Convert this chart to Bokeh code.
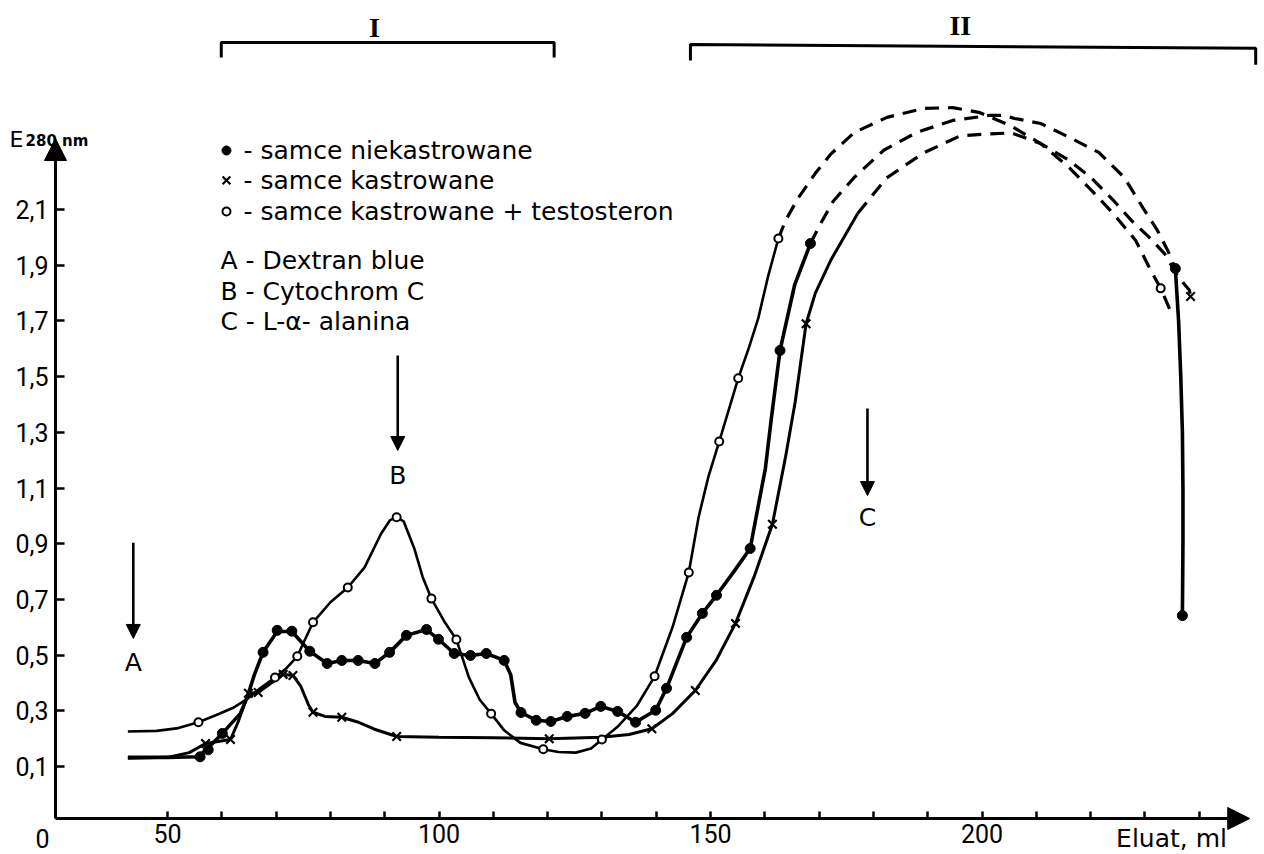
from bokeh.plotting import figure
from bokeh.models import Range1d, Arrow, NormalHead, FixedTicker
from bokeh.embed import file_html
from bokeh.resources import INLINE
from bokeh.core.properties import value

# ---------------- data ----------------
# samce niekastrowane (filled circles) - solid trace
f_x = [42.7, 50, 55.5, 57, 60.1, 63.4, 64.7, 66, 67.6, 70.2, 72.9, 76.2, 79.4, 82.1, 85.1, 88.2,
       90.9, 94, 97.7, 99.9, 102.8, 105.8, 108.7, 112, 113.2, 114, 115.1, 117.9, 120.6, 123.6,
       126.9, 129.8, 132.9, 136.2, 139.9, 141.9, 145.6, 148.5, 151.1, 154.3, 157.3, 160.1, 161.2,
       162.8, 165.5, 168.4]
f_y = [0.133, 0.133, 0.135, 0.158, 0.219, 0.29, 0.35, 0.43, 0.51, 0.585, 0.585, 0.514, 0.47, 0.481,
       0.481, 0.47, 0.51, 0.571, 0.592, 0.557, 0.506, 0.499, 0.506, 0.481, 0.43, 0.33, 0.294, 0.266,
       0.262, 0.28, 0.291, 0.316, 0.298, 0.259, 0.302, 0.381, 0.564, 0.65, 0.715, 0.80, 0.883, 1.17,
       1.35, 1.594, 1.83, 1.978]
f_dash_x = [168.4, 170.3, 172.6, 176.5, 181.9, 188.0, 194.6, 201.4, 204.0, 206.0, 210.8, 216.1,
            221.5, 226.2, 229.6, 232.3, 234.2, 235.6]
f_dash_y = [1.978, 2.05, 2.13, 2.216, 2.313, 2.377, 2.42, 2.438, 2.438, 2.427, 2.409, 2.359,
            2.305, 2.215, 2.107, 2.025, 1.953, 1.888]
f_tail_x = [235.6, 236.2, 236.6, 236.9, 237.0, 237.0, 236.9]
f_tail_y = [1.888, 1.70, 1.50, 1.30, 1.10, 0.90, 0.642]
f_mark_x = [56, 57.5, 60.1, 67.6, 70.2, 72.9, 76.2, 79.4, 82.1, 85.1, 88.2, 90.9, 94, 97.7, 99.9,
            102.8, 105.8, 108.7, 112, 115.1, 117.9, 120.6, 123.6, 126.9, 129.8, 132.9, 136.2,
            139.9, 141.9, 145.6, 148.5, 151.1, 157.3, 162.8, 168.4, 235.6, 236.9]
f_mark_y = [0.135, 0.16, 0.219, 0.51, 0.589, 0.586, 0.514, 0.47, 0.481, 0.481, 0.47, 0.51, 0.571,
            0.592, 0.557, 0.506, 0.499, 0.506, 0.481, 0.294, 0.266, 0.262, 0.28, 0.291, 0.316,
            0.298, 0.259, 0.302, 0.381, 0.564, 0.65, 0.715, 0.883, 1.594, 1.978, 1.888, 0.642]

# samce kastrowane (crosses)
k_x = [42.7, 50, 54, 57, 61.6, 63, 64.9, 66.7, 69.8, 71.3, 73.1, 74.5, 76, 76.8, 79, 82.1, 85,
       88, 92.2, 100, 110, 120.3, 130, 135, 139.2, 143, 147.2, 151, 154.6, 158, 161.4, 163.8,
       165.6, 167.6, 169.3, 172.2, 177.1]
k_y = [0.13, 0.133, 0.15, 0.183, 0.197, 0.26, 0.363, 0.366, 0.41, 0.431, 0.427, 0.39, 0.32, 0.295,
       0.28, 0.277, 0.26, 0.235, 0.208, 0.205, 0.203, 0.2, 0.205, 0.215, 0.236, 0.29, 0.373, 0.48,
       0.614, 0.78, 0.97, 1.21, 1.41, 1.69, 1.80, 1.92, 2.086]
k_dash_x = [177.1, 182.4, 189.2, 195.9, 200.6, 205.4, 210.8, 216.1, 220.2, 224.2, 227.5, 230.8,
            233.6, 236.2, 238.2, 238.4]
k_dash_y = [2.086, 2.213, 2.303, 2.364, 2.371, 2.375, 2.337, 2.276, 2.212, 2.133, 2.061, 2.0,
            1.942, 1.856, 1.81, 1.788]
k_mark_x = [57, 61.6, 64.9, 66.7, 71.3, 73.1, 76.8, 82.1, 92.2, 120.3, 139.2, 147.2, 154.6,
            161.4, 167.6, 238.4]
k_mark_y = [0.183, 0.197, 0.363, 0.366, 0.431, 0.427, 0.295, 0.277, 0.208, 0.2, 0.236, 0.373,
            0.614, 0.97, 1.69, 1.788]

# samce kastrowane + testosteron (open circles)
o_x = [42.7, 48, 52, 55.7, 59, 62, 64.5, 67, 69.8, 72, 73.9, 76.8, 80, 83.2, 86.3, 89.3, 91,
       92.2, 93.5, 95.5, 97, 98.6, 101, 103.2, 105.5, 107.5, 109.6, 112, 115, 119.2, 122, 125.2,
       128, 130, 133, 136.5, 139.7, 143, 146, 147.8, 149.6, 151.6, 155.1, 157, 158.8, 160.6, 162.5]
o_y = [0.226, 0.228, 0.238, 0.259, 0.285, 0.31, 0.34, 0.38, 0.42, 0.455, 0.496, 0.618, 0.69,
       0.743, 0.815, 0.935, 0.985, 0.995, 0.98, 0.88, 0.78, 0.703, 0.62, 0.556, 0.42, 0.34, 0.29,
       0.23, 0.185, 0.162, 0.152, 0.15, 0.165, 0.197, 0.245, 0.32, 0.424, 0.6, 0.797, 0.995,
       1.14, 1.267, 1.494, 1.6, 1.71, 1.86, 1.996]
o_dash_x = [162.5, 163.8, 166.1, 169.3, 172.2, 176.5, 182.5, 189.2, 194.6, 199.4, 205.2, 210.8,
            216.1, 220.2, 224.2, 228.3, 230.8, 232.9, 234.9]
o_dash_y = [1.996, 2.06, 2.14, 2.23, 2.30, 2.377, 2.431, 2.463, 2.466, 2.449, 2.402, 2.337,
            2.25, 2.168, 2.085, 1.989, 1.892, 1.817, 1.727]
o_mark_x = [55.7, 69.8, 73.9, 76.8, 83.2, 92.2, 98.6, 103.2, 109.6, 119.2, 130, 139.7, 146,
            151.6, 155.1, 162.5, 232.9]
o_mark_y = [0.259, 0.42, 0.496, 0.618, 0.743, 0.995, 0.703, 0.556, 0.29, 0.162, 0.197, 0.424,
            0.797, 1.267, 1.494, 1.996, 1.817]

y_ticks = [0.1, 0.3, 0.5, 0.7, 0.9, 1.1, 1.3, 1.5, 1.7, 1.9, 2.1]
y_labels = ["0,1", "0,3", "0,5", "0,7", "0,9", "1,1", "1,3", "1,5", "1,7", "1,9", "2,1"]
x_ticks = [50, 60, 70, 80, 90, 100, 110, 120, 130, 140, 150, 160, 170, 180, 190, 200, 210,
           220, 230, 240]
x_labelled = {50: "50", 100: "100", 150: "150", 200: "200"}

legend_rows = ["- samce niekastrowane", "- samce  kastrowane", "- samce  kastrowane + testosteron"]
marker_rows = ["A - Dextran  blue", "B - Cytochrom  C", "C - L-\u03b1- alanina"]
fractions = ["I", "II"]
frac_x = [[59.9, 59.9, 121.2, 121.2], [146.3, 146.3, 250.4, 250.4]]
frac_y = [[2.646, 2.70, 2.70, 2.646], [2.635, 2.693, 2.679, 2.62]]
frac_label_x = [88.1, 196.0]
arrow_names = ["A", "B", "C"]
arrow_x = [43.7, 92.4, 178.9]
arrow_top = [0.904, 1.576, 1.386]
arrow_bottom = [0.560, 1.235, 1.073]
arrow_label_y = [0.474, 1.145, 0.995]

# ---------------- figure ----------------
XL, XR = 19.245, 252.02          # whole canvas in data units
YB, YT = -0.2158, 2.8506
X_AX, Y_AX = 29.37, -0.0866      # where the axes cross
FONT = "DejaVu Sans"
NUMFONT = "Roboto"

p = figure(width=1264, height=854, output_backend="svg", toolbar_location=None,
           x_range=Range1d(XL, XR), y_range=Range1d(YB, YT),
           min_border_left=0, min_border_right=0, min_border_top=0, min_border_bottom=0)
p.grid.visible = False
p.outline_line_color = None
p.background_fill_color = "white"
p.border_fill_color = "white"

for ax in (p.xaxis[0], p.yaxis[0]):
    ax.axis_line_width = 3
    ax.axis_line_color = "black"
    ax.major_tick_line_width = 2.5
    ax.major_tick_line_color = "black"
    ax.major_tick_out = 0
    ax.minor_tick_line_color = None
    ax.major_label_text_font = NUMFONT
    ax.major_label_text_color = "black"
    ax.major_label_text_font_size = "25px"

p.yaxis.fixed_location = X_AX
p.yaxis.ticker = FixedTicker(ticks=y_ticks)
p.yaxis.major_label_overrides = {t: l for t, l in zip(y_ticks, y_labels)}
p.yaxis.major_label_standoff = 7
p.yaxis.major_tick_in = 9
p.yaxis.bounds = (Y_AX, 2.30)

p.xaxis.fixed_location = Y_AX
p.xaxis.ticker = FixedTicker(ticks=x_ticks)
p.xaxis.major_label_overrides = {t: x_labelled.get(t, "") for t in x_ticks}
p.xaxis.major_label_standoff = 5
p.xaxis.major_tick_in = 7
p.xaxis.bounds = (X_AX, 245.5)

# axis arrow heads
p.add_layout(Arrow(end=NormalHead(size=22, fill_color="black", line_color="black", line_width=1),
                   x_start=X_AX, y_start=2.2, x_end=X_AX, y_end=2.355, line_width=3))
p.add_layout(Arrow(end=NormalHead(size=22, fill_color="black", line_color="black", line_width=1),
                   x_start=243.5, y_start=Y_AX, x_end=249.3, y_end=Y_AX, line_width=3))

# series lines
p.line(f_x, f_y, line_width=3.6, color="black")
p.line(f_tail_x, f_tail_y, line_width=3.6, color="black")
p.line(f_dash_x, f_dash_y, line_width=3.2, color="black", line_dash="14 9")
p.line(k_x, k_y, line_width=3.0, color="black")
p.line(k_dash_x, k_dash_y, line_width=3.2, color="black", line_dash="14 9")
p.line(o_x, o_y, line_width=2.6, color="black")
p.line(o_dash_x, o_dash_y, line_width=3.2, color="black", line_dash="14 9")

# markers
p.scatter(f_mark_x, f_mark_y, marker="circle", size=10, fill_color="black", line_color="black")
p.scatter(k_mark_x, k_mark_y, marker="x", size=12, line_color="black", line_width=2.2)
p.scatter(o_mark_x, o_mark_y, marker="circle", size=8, fill_color="white", line_color="black",
          line_width=2)

# legend (as drawn in the figure)
leg_mark_x = 60.86
leg_text_x = 64.0
leg_y = [2.312, 2.205, 2.093]
p.scatter([leg_mark_x], [leg_y[0]], marker="circle", size=9, fill_color="black", line_color="black")
p.scatter([leg_mark_x], [leg_y[1]], marker="x", size=11, line_color="black", line_width=2.2)
p.scatter([leg_mark_x], [leg_y[2]], marker="circle", size=8, fill_color="white",
          line_color="black", line_width=2)
p.text([leg_text_x] * 3, leg_y, text=legend_rows, text_font=value(FONT), text_font_size="25px",
       text_baseline="middle", text_align="left", text_color="black")
p.text([59.75] * 3, [1.917, 1.806, 1.698], text=marker_rows, text_font=value(FONT),
       text_font_size="25px", text_baseline="middle", text_align="left", text_color="black")

# marker arrows A, B, C
for ax_, yt, yb in zip(arrow_x, arrow_top, arrow_bottom):
    p.add_layout(Arrow(end=NormalHead(size=14, fill_color="black", line_color="black"),
                       x_start=ax_, y_start=yt, x_end=ax_, y_end=yb, line_width=2.6))
p.text(arrow_x, arrow_label_y, text=arrow_names, text_font=value(FONT), text_font_size="25px",
       text_baseline="middle", text_align="center", text_color="black")

# fraction brackets I / II
p.multi_line(frac_x, frac_y, line_width=3, color="black")
p.text(frac_label_x, [2.752, 2.762], text=fractions, text_font=value("Liberation Serif"),
       text_font_size="28px", text_font_style="bold", text_baseline="middle",
       text_align="center", text_color="black")

# axis titles and origin
p.text([20.9], [2.352], text=["E"], text_font=value(FONT), text_font_size="22px",
       text_baseline="alphabetic", text_align="left", text_color="black")
p.text([23.85], [2.345], text=["280 nm"], text_font=value(FONT), text_font_size="15px",
       text_font_style="bold", text_baseline="alphabetic", text_align="left", text_color="black")
p.text([234.9], [-0.158], text=["Eluat, ml"], text_font=value(FONT), text_font_size="25px",
       text_baseline="middle", text_align="center", text_color="black")
p.text([26.98], [-0.158], text=["0"], text_font=value(NUMFONT), text_font_size="25px",
       text_baseline="middle", text_align="center", text_color="black")

open("out.html", "w").write(file_html(p, INLINE))
